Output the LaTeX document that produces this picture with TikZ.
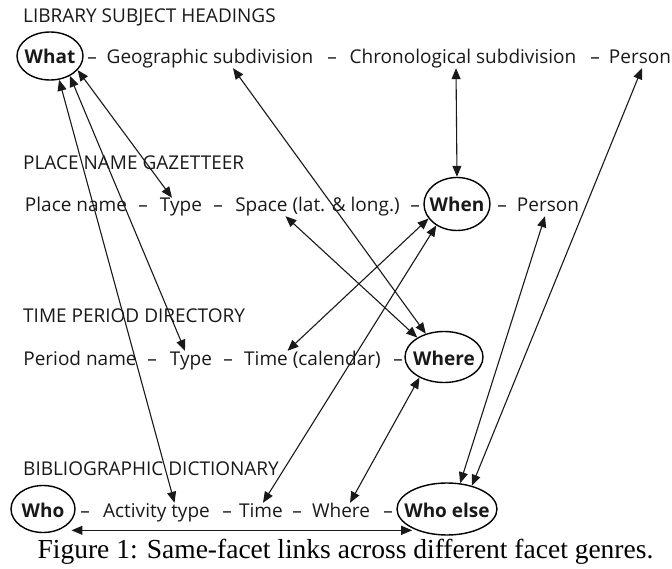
\documentclass[tikz,border=0pt]{standalone}
\usepackage{fontspec}
\setmainfont{Open Sans}
\newfontfamily\capfont{Liberation Serif}
\usepackage{tikz}
\usetikzlibrary{arrows.meta,positioning,shapes.geometric}

\tikzset{
  facet/.style={anchor=base, text=black!90, inner sep=0pt,
    font=\fontsize{19}{22}\selectfont, text height=14pt, text depth=4pt},
  genre/.style={facet, anchor=base west},
  keyfacet/.style={facet, ellipse, draw=black, line width=1.4pt,
    font=\fontsize{19}{22}\selectfont\bfseries,
    inner xsep=-14pt, inner ysep=-6pt, text height=17pt, text depth=1pt},
  link/.style={{Triangle[length=11pt,width=9pt]}-{Triangle[length=11pt,width=9pt]},
    line width=1.1pt, black!90},
}

\begin{document}
\begin{tikzpicture}[x=1pt,y=-1pt]
  \useasboundingbox (0,0) rectangle (672,569);

  % genre headings
  \node[genre] (lsh) at (23,23)  {LIBRARY SUBJECT HEADINGS};
  \node[genre] (png) at (23,170) {PLACE NAME GAZETTEER};
  \node[genre] (tpd) at (23,323) {TIME PERIOD DIRECTORY};
  \node[genre] (bd)  at (23,475) {BIBLIOGRAPHIC DICTIONARY};

  % library subject headings
  \node[keyfacet, minimum width=66pt, minimum height=48pt] (what) at (50,64) {What};
  \node[facet] (geo)     at (210,64) {Geographic subdivision};
  \node[facet] (chrono)  at (463,64) {Chronological subdivision};
  \node[facet] (personA) at (640,64) {Person};

  % place name gazetteer
  \node[facet] (place)   at (76,212)    {Place name};
  \node[facet] (typeA)   at (181,212)   {Type};
  \node[facet] (space)   at (317.5,212) {Space (lat. \& long.)};
  \node[keyfacet, minimum width=66pt, minimum height=53pt] (when) at (457,212) {When};
  \node[facet] (personB) at (548,212)   {Person};

  % time period directory
  \node[facet] (period)  at (80,365)    {Period name};
  \node[facet] (typeB)   at (191,365)   {Type};
  \node[facet] (timecal) at (312.5,365) {Time (calendar)};
  \node[keyfacet, minimum width=78pt, minimum height=51pt] (where) at (444,365) {Where};

  % bibliographic dictionary
  \node[keyfacet, minimum width=64pt, minimum height=47pt] (who) at (43,517) {Who};
  \node[facet] (activity) at (156.5,517) {Activity type};
  \node[facet] (timeB)    at (261,517)   {Time};
  \node[facet] (whereB)   at (341,517)   {Where};
  \node[keyfacet, minimum width=100pt, minimum height=52pt] (whoelse) at (447,517) {Who else};

  % separators
  \foreach \x/\y [count=\i] in {92/64, 332/64, 595/64,
      143/212, 218/212, 415/212, 502/212,
      152/365, 228/365, 398/365,
      85/517, 227/517, 297/517, 388/517}
    \node[facet] (dash\i) at (\x,\y) {\textendash};

  % same-facet links
  \draw[link] (what.-27) -- ([xshift=-9pt]typeA.north);
  \draw[link] (what.-45) -- ([xshift=-6pt]typeB.north);
  \draw[link] (what.-69) -- ([xshift=18pt]activity.north);
  \draw[link] ([xshift=23pt]geo.south) -- (where.128);
  \draw[link] ([xshift=-32pt]space.south) -- (where.144);
  \draw[link] ([xshift=-7pt]chrono.south) -- (when.north);
  \draw[link] ([xshift=2pt]personA.south) -- (whoelse.43);
  \draw[link] ([xshift=-3pt]personB.south) -- (whoelse.63);
  \draw[link] (when.-153) -- ([xshift=-25pt]timecal.north);
  \draw[link] (when.-134) -- ([xshift=2pt]timeB.north);
  \draw[link] (where.-140) -- ([xshift=9pt]whereB.north);
  \draw[link, shorten <=13pt, shorten >=5pt] (who.-54) -- (who.-54 -| whoelse.-144);

  \node[anchor=base, inner sep=0pt, font=\capfont\fontsize{27.5}{30}\selectfont]
    (caption) at (345.5,558) {Figure 1: Same-facet links across different facet genres.};
\end{tikzpicture}
\end{document}
